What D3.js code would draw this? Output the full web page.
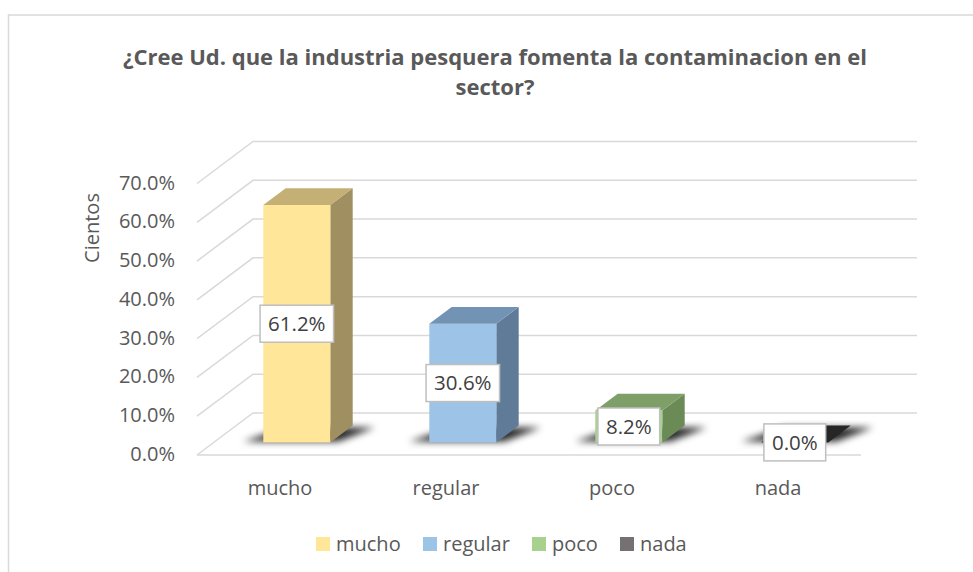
<!DOCTYPE html>
<html>
<head>
<meta charset="utf-8">
<script src="https://cdn.jsdelivr.net/npm/d3@7/dist/d3.min.js"></script>
<style>
  body { margin: 0; background: #fff; }
  text { font-family: "Open Sans", "Liberation Sans", sans-serif; }
</style>
</head>
<body>
<div id="wrapper"></div>
<script>
const categories = ["mucho", "regular", "poco", "nada"] ;
const values = [0.612, 0.306, 0.082, 0.0] ;
const valueLabels = ["61.2%", "30.6%", "8.2%", "0.0%"] ;
const yTicks = [0, 0.1, 0.2, 0.3, 0.4, 0.5, 0.6, 0.7] ;
const frontColors = ["#FFE699", "#9DC3E6", "#A9D18E", "#767171"] ;
const sideColors = ["#A08F60", "#5F7B98", "#6A8A56", "#1a1a1a"] ;
const topColors = ["#C4AF74", "#7393B4", "#7EA068", "#262626"] ;
const titleLines = ["¿Cree Ud. que la industria pesquera fomenta la contaminacion en el", "sector?"] ;

function drawChart() {
  let dimensions = {
    width: 973,
    height: 572,
    floorLeft: 197,
    floorRight: 861,
    floorY: 455,
    topY: 183.5,
    depthX: 56,
    depthY: -42,
  } ;

  const svg = d3.select("#wrapper").append("svg")
    .attr("width", dimensions.width)
    .attr("height", dimensions.height)
  ;

  const defs = svg.append("defs") ;
  defs.append("filter").attr("id", "blur")
    .attr("x", "-50%").attr("y", "-50%").attr("width", "200%").attr("height", "200%")
    .append("feGaussianBlur").attr("stdDeviation", 3.5) ;

  // chart frame
  svg.append("rect")
    .attr("x", 8.5).attr("y", 15)
    .attr("width", 980).attr("height", 600)
    .attr("fill", "none")
    .attr("stroke", "#D9D9D9")
    .attr("stroke-width", 1.5)
  ;

  const xScale = d3.scaleBand()
    .domain(categories)
    .range([dimensions.floorLeft, dimensions.floorRight])
  ;
  const yScale = d3.scaleLinear()
    .domain([0, 0.7])
    .range([dimensions.floorY, dimensions.topY])
  ;
  const dx = dimensions.depthX, dy = dimensions.depthY ;

  // gridlines: side wall diagonal + back wall line
  const grid = svg.append("g") ;
  grid.selectAll("polyline")
    .data(yTicks)
    .enter().append("polyline")
      .attr("points", (d) => {
        const y = yScale(d) ;
        return [[dimensions.floorLeft, y], [dimensions.floorLeft + dx, y + dy], [dimensions.floorRight + dx, y + dy]].join(" ") ;
      })
      .attr("fill", "none")
      .attr("stroke", "#D9D9D9")
      .attr("stroke-width", 1.5)
  ;
  // floor front edge
  grid.append("line")
    .attr("x1", dimensions.floorLeft).attr("x2", dimensions.floorRight)
    .attr("y1", yScale(0)).attr("y2", yScale(0))
    .attr("stroke", "#D9D9D9")
    .attr("stroke-width", 1.5)
  ;

  // y tick labels
  svg.append("g").selectAll("text")
    .data(yTicks)
    .enter().append("text")
      .attr("x", 175)
      .attr("y", (d) => yScale(d) - 1)
      .attr("dy", "0.35em")
      .attr("text-anchor", "end")
      .attr("font-size", 20)
      .attr("fill", "#595959")
      .text(d3.format(".1%"))
  ;

  svg.append("text")
    .attr("transform", "translate(99, 228) rotate(-90)")
    .attr("text-anchor", "middle")
    .attr("font-size", 20)
    .attr("fill", "#595959")
    .text("Cientos")
  ;

  // bars
  const bw = xScale.bandwidth() ;
  const barW = 67 ;
  const d0 = 0.3, d1 = 0.7 ;
  const bars = categories.map((c, i) => {
    const cx = xScale(c) + bw / 2 + dx * d0 ;
    const x0 = cx - barW / 2 ;
    const x1 = cx + barW / 2 ;
    const yb = yScale(0) + dy * d0 ;
    const yt = yScale(values[i]) + dy * d0 ;
    const ddx = dx * (d1 - d0), ddy = dy * (d1 - d0) ;
    return {i, x0, x1, yb, yt, ddx, ddy, cx} ;
  }) ;

  const shadows = svg.append("g").attr("filter", "url(#blur)") ;
  shadows.selectAll("polygon")
    .data(bars)
    .enter().append("polygon")
      .attr("points", (b) => [
        [b.x0 - 20, b.yb - 1], [b.x1 + 8, b.yb - 1],
        [b.x1 + b.ddx + 22, b.yb + b.ddy + 2], [b.x0 + b.ddx, b.yb + b.ddy + 2]
      ].join(" "))
      .attr("fill", "#000")
      .attr("opacity", 0.85)
  ;

  const barG = svg.append("g") ;
  barG.selectAll(".side")
    .data(bars)
    .enter().append("polygon")
      .attr("class", "side")
      .attr("points", (b) => [[b.x1, b.yb], [b.x1 + b.ddx, b.yb + b.ddy], [b.x1 + b.ddx, b.yt + b.ddy], [b.x1, b.yt]].join(" "))
      .attr("fill", (b) => sideColors[b.i])
  ;
  barG.selectAll(".front")
    .data(bars)
    .enter().append("rect")
      .attr("class", "front")
      .attr("x", (b) => b.x0)
      .attr("y", (b) => b.yt)
      .attr("width", barW)
      .attr("height", (b) => b.yb - b.yt)
      .attr("fill", (b) => frontColors[b.i])
  ;
  barG.selectAll(".top")
    .data(bars)
    .enter().append("polygon")
      .attr("class", "top")
      .attr("points", (b) => [[b.x0, b.yt], [b.x1, b.yt], [b.x1 + b.ddx, b.yt + b.ddy], [b.x0 + b.ddx, b.yt + b.ddy]].join(" "))
      .attr("fill", (b) => topColors[b.i])
  ;

  // value labels
  const labG = svg.append("g").selectAll("g")
    .data(bars)
    .enter().append("g")
      .attr("transform", (b) => `translate(${b.cx}, ${(b.yb + b.yt) / 2})`)
  ;
  labG.append("text")
    .attr("text-anchor", "middle")
    .attr("dy", "0.35em")
    .attr("font-size", 20.5)
    .attr("fill", "#404040")
    .text((b) => valueLabels[b.i])
  ;
  labG.each(function () {
    const g = d3.select(this) ;
    const bb = g.select("text").node().getBBox() ;
    g.insert("rect", "text")
      .attr("x", bb.x - 8).attr("y", -18.5)
      .attr("width", bb.width + 16).attr("height", 37)
      .attr("fill", "#fff")
      .attr("stroke", "#BFBFBF")
      .attr("stroke-width", 1.5)
    ;
  }) ;

  // category labels
  svg.append("g").selectAll("text")
    .data(categories)
    .enter().append("text")
      .attr("x", (d) => xScale(d) + bw / 2)
      .attr("y", 488)
      .attr("dy", "0.35em")
      .attr("text-anchor", "middle")
      .attr("font-size", 20)
      .attr("fill", "#595959")
      .text((d) => d)
  ;

  // title
  svg.append("g").selectAll("text")
    .data(titleLines)
    .enter().append("text")
      .attr("x", 495)
      .attr("y", (d, i) => 57 + i * 30)
      .attr("dy", "0.35em")
      .attr("text-anchor", "middle")
      .attr("font-size", 22)
      .attr("font-weight", "bold")
      .attr("fill", "#595959")
      .text((d) => d)
  ;

  // legend
  const legendX = [316, 423, 532, 620] ;
  const leg = svg.append("g").selectAll("g")
    .data(categories)
    .enter().append("g")
      .attr("transform", (d, i) => `translate(${legendX[i]}, 537)`)
  ;
  leg.append("rect")
    .attr("width", 14).attr("height", 14)
    .attr("fill", (d, i) => frontColors[i])
  ;
  leg.append("text")
    .attr("x", 20)
    .attr("y", 7)
    .attr("dy", "0.35em")
    .attr("font-size", 20)
    .attr("fill", "#595959")
    .text((d) => d)
  ;
}

drawChart() ;
</script>
</body>
</html>
